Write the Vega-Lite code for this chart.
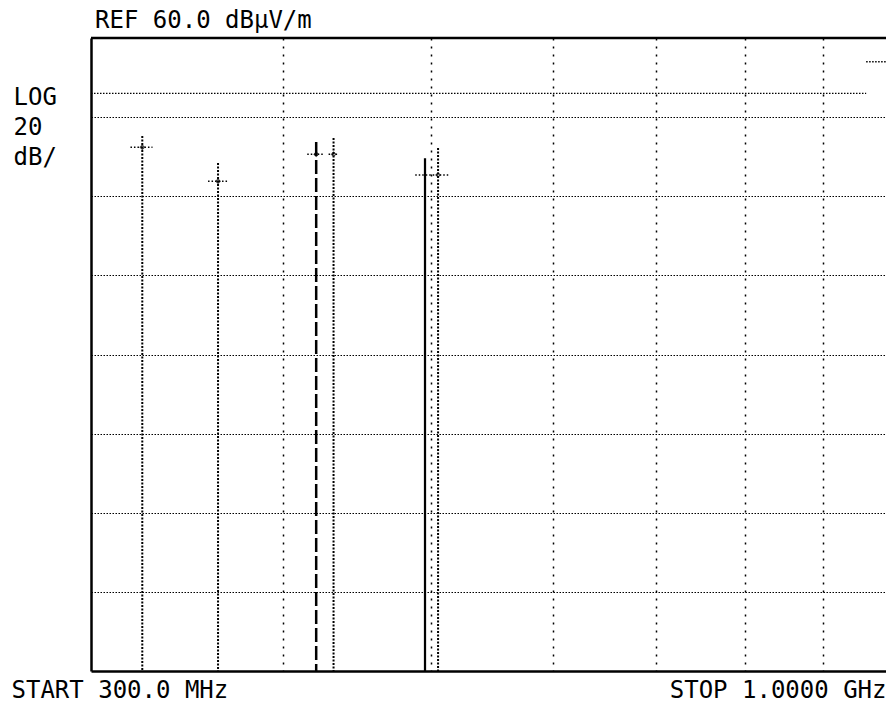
{
  "$schema": "https://vega.github.io/schema/vega-lite/v6.json",
  "width": 795,
  "height": 633,
  "autosize": {"type": "none"},
  "padding": {"left": 91, "top": 38, "right": 0, "bottom": 37},
  "background": "white",
  "config": {
    "view": {"stroke": null},
    "font": "DejaVu Sans Mono"
  },
  "title": {
    "text": "REF 60.0 dBµV/m",
    "anchor": "start",
    "frame": "group",
    "dx": 4,
    "dy": 26,
    "offset": 11,
    "baseline": "alphabetic",
    "font": "DejaVu Sans Mono",
    "fontSize": 24,
    "fontWeight": "normal",
    "color": "black"
  },
  "datasets": {
    "ref": [{"level": 60}],
    "limit": [
      {"seg": "a", "f": 300, "lim": 46},
      {"seg": "a", "f": 960, "lim": 46},
      {"seg": "b", "f": 960, "lim": 54},
      {"seg": "b", "f": 989, "lim": 54}
    ],
    "lines": [
      {"id": "M1", "kind": "marker", "f": 324, "top": 35.2},
      {"id": "M2", "kind": "marker", "f": 363, "top": 28.4},
      {"id": "D", "kind": "trace B", "f": 420.6, "top": 33.7},
      {"id": "M3", "kind": "marker", "f": 431.7, "top": 34.7},
      {"id": "S", "kind": "trace A", "f": 495.2, "top": 29.6},
      {"id": "M4", "kind": "marker", "f": 505, "top": 32.2}
    ],
    "crosses": [
      {"id": "M1", "f": 324, "lo": 318.3, "hi": 329, "level": 32.4},
      {"id": "M2", "f": 363, "lo": 357.6, "hi": 368.5, "level": 23.8},
      {"id": "D", "f": 420.6, "lo": 415, "hi": 426, "level": 30.6},
      {"id": "M3", "f": 431.7, "lo": 428.5, "hi": 435, "level": 30.6},
      {"id": "M4", "f": 505, "lo": 488, "hi": 514, "level": 25.4}
    ]
  },
  "layer": [
    {
      "data": {"name": "ref"},
      "mark": {"type": "rule", "color": "black", "strokeWidth": 2.5},
      "encoding": {
        "y": {
          "field": "level",
          "type": "quantitative",
          "scale": {"domain": [-100, 60], "nice": false, "zero": false},
          "axis": {
            "values": [-80, -60, -40, -20, 0, 20, 40],
            "labels": false,
            "ticks": false,
            "tickSize": 0,
            "domain": true,
            "domainColor": "black",
            "domainWidth": 2.5,
            "grid": true,
            "gridColor": "black",
            "gridDash": [1.5, 1.5],
            "gridWidth": 1.2,
            "gridOpacity": 1,
            "title": ["LOG", "20", "dB/"],
            "titleAngle": 0,
            "titleAlign": "left",
            "titleBaseline": "top",
            "titleX": -78,
            "titleY": 47,
            "titleLineHeight": 30,
            "titleFont": "DejaVu Sans Mono",
            "titleFontSize": 24,
            "titleFontWeight": "normal",
            "titleColor": "black"
          }
        }
      }
    },
    {
      "data": {"name": "limit"},
      "mark": {"type": "line", "color": "black", "strokeWidth": 1.3, "strokeDash": [1.5, 1.5]},
      "encoding": {
        "x": {
          "field": "f",
          "type": "quantitative",
          "scale": {"type": "log", "domain": [300, 989], "nice": false, "zero": false},
          "axis": {
            "values": [400, 500, 600, 700, 800, 900, 989],
            "labelExpr": "datum.value > 980 ? 'STOP 1.0000 GHz' : ''",
            "labelAlign": "right",
            "labelBaseline": "alphabetic",
            "labelPadding": 26,
            "labelFlush": false,
            "labelBound": false,
            "labelOverlap": false,
            "labelLimit": 0,
            "labelFont": "DejaVu Sans Mono",
            "labelFontSize": 24,
            "labelColor": "black",
            "ticks": false,
            "tickSize": 0,
            "domain": true,
            "domainColor": "black",
            "domainWidth": 2.5,
            "grid": true,
            "gridColor": "black",
            "gridDash": [2, 6],
            "gridWidth": 1.5,
            "gridOpacity": {"condition": {"test": "datum.value > 980", "value": 0}, "value": 1},
            "title": "START 300.0 MHz",
            "titleAlign": "left",
            "titleBaseline": "alphabetic",
            "titleX": -80,
            "titleY": 26,
            "titleFont": "DejaVu Sans Mono",
            "titleFontSize": 24,
            "titleFontWeight": "normal",
            "titleColor": "black"
          }
        },
        "y": {"field": "lim", "type": "quantitative", "scale": {"domain": [-100, 60], "nice": false, "zero": false}},
        "detail": {"field": "seg", "type": "nominal"}
      }
    },
    {
      "data": {"name": "lines"},
      "mark": {"type": "rule", "color": "black"},
      "encoding": {
        "x": {"field": "f", "type": "quantitative", "scale": {"type": "log", "domain": [300, 989], "nice": false, "zero": false}},
        "y": {"field": "top", "type": "quantitative", "scale": {"domain": [-100, 60], "nice": false, "zero": false}},
        "y2": {"datum": -100},
        "strokeDash": {
          "field": "kind",
          "type": "nominal",
          "scale": {"domain": ["marker", "trace A", "trace B"], "range": [[2, 1.5], [1, 0], [14, 4]]},
          "legend": null
        },
        "strokeWidth": {
          "field": "kind",
          "type": "ordinal",
          "scale": {"domain": ["marker", "trace A", "trace B"], "range": [2, 2.5, 2]},
          "legend": null
        }
      }
    },
    {
      "data": {"name": "crosses"},
      "mark": {"type": "rule", "color": "black", "strokeWidth": 1.5, "strokeDash": [1.5, 2]},
      "encoding": {
        "x": {"field": "lo", "type": "quantitative", "scale": {"type": "log", "domain": [300, 989], "nice": false, "zero": false}},
        "x2": {"field": "hi"},
        "y": {"field": "level", "type": "quantitative", "scale": {"domain": [-100, 60], "nice": false, "zero": false}}
      }
    },
    {
      "data": {"name": "crosses"},
      "mark": {"type": "point", "shape": "diamond", "filled": false, "color": "black", "size": 18, "strokeWidth": 1.2},
      "encoding": {
        "x": {"field": "f", "type": "quantitative", "scale": {"type": "log", "domain": [300, 989], "nice": false, "zero": false}},
        "y": {"field": "level", "type": "quantitative", "scale": {"domain": [-100, 60], "nice": false, "zero": false}}
      }
    }
  ]
}
